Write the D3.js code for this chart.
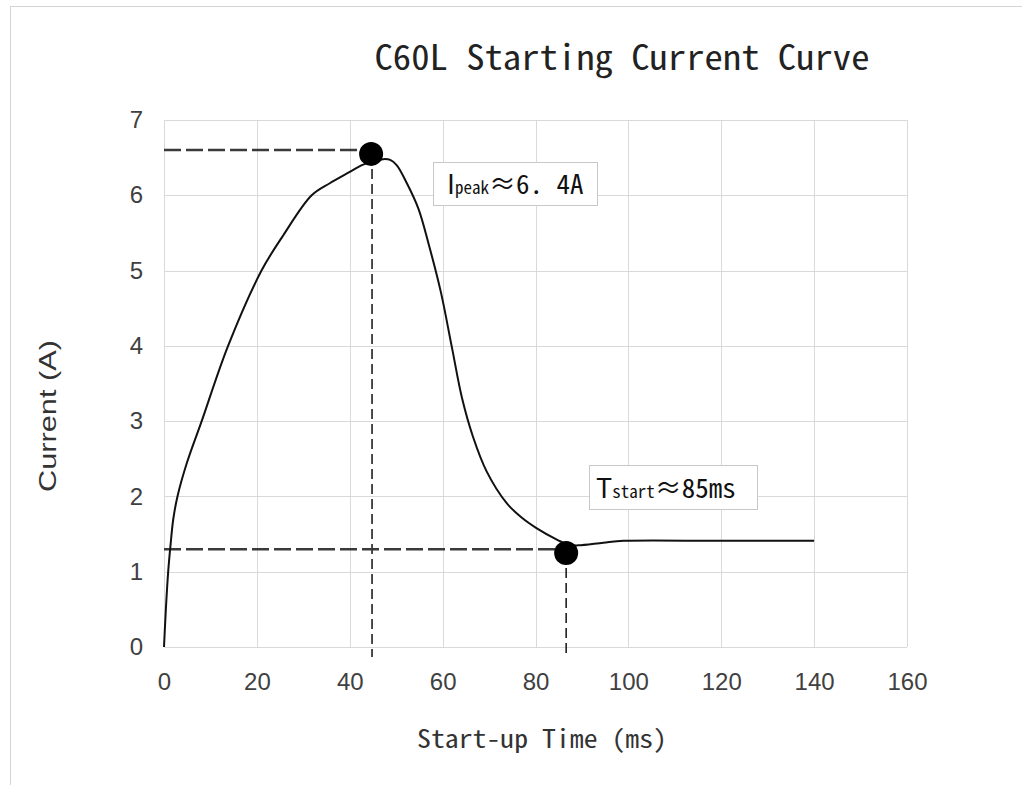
<!DOCTYPE html>
<html>
<head>
<meta charset="utf-8">
<script src="https://cdn.jsdelivr.net/npm/d3@7"></script>
<style>
  html, body { margin: 0; padding: 0; background: #ffffff; }
  svg { display: block; }
</style>
</head>
<body>
<svg id="chart" width="1022" height="785"></svg>
<script>
// Curve: time in ms, current in A
var timeMs = [0, 0.4, 0.9, 1.4, 2.0, 2.9, 4.9, 8.0, 13.8, 21.0, 25.7, 31.8,
  35.7, 40.0, 42.6, 45.0, 47.2, 48.7, 50.1, 52.3, 54.8, 57.0, 59.6, 62.0, 64.2, 66.5,
  69.5, 73.8, 77.0, 80.2, 84.8, 87.0, 89.2, 94.6, 99.0, 120, 140];
var currentA = [0, 0.5, 1.0, 1.35, 1.7, 2.0, 2.44, 2.98, 4.0, 5.0, 5.47, 6.0,
  6.16, 6.31, 6.40, 6.45, 6.48, 6.47, 6.40, 6.16, 5.82, 5.35, 4.72, 3.98, 3.3, 2.8,
  2.33, 1.91, 1.72, 1.58, 1.42, 1.36, 1.35, 1.385, 1.41, 1.41, 1.41];

// Marked points
var peakPoint = [44.6, 6.55];
var startPoint = [86.6, 1.25];
var peakLevel = 6.6;
var startLevel = 1.3;

var xTicks = [0, 20, 40, 60, 80, 100, 120, 140, 160];
var yTicks = [0, 1, 2, 3, 4, 5, 6, 7];

var titleText = "C60L Starting Current Curve";
var xTitle = "Start-up Time (ms)";
var yTitle = "Current (A)";

var chartWidth = 1022, chartHeight = 785;
var margin = { top: 120, right: 115, bottom: 138, left: 164 };
var monoFont = "'Noto Sans Mono CJK SC', 'DejaVu Sans Mono', monospace";
var sansFont = "'Noto Sans CJK SC', 'Noto Sans', sans-serif";
var tickFont = "'Liberation Sans', Arial, sans-serif";

var svg = d3.select("#chart");

var x = d3.scaleLinear().domain([0, 160]).range([margin.left, chartWidth - margin.right]);
var y = d3.scaleLinear().domain([0, 7]).range([chartHeight - margin.bottom, margin.top]);

// outer sheet frame
svg.append("line").attr("x1", 10).attr("x2", chartWidth).attr("y1", 6.5).attr("y2", 6.5)
  .style("stroke", "#d4d4d4");
svg.append("line").attr("x1", 10.5).attr("x2", 10.5).attr("y1", 6).attr("y2", chartHeight)
  .style("stroke", "#d4d4d4");

// grid
svg.append("g").selectAll("line").data(xTicks).join("line")
  .attr("x1", function(d) { return Math.round(x(d)) + 0.5; })
  .attr("x2", function(d) { return Math.round(x(d)) + 0.5; })
  .attr("y1", y(0)).attr("y2", y(7))
  .style("stroke", "#d9d9d9");
svg.append("g").selectAll("line").data(yTicks).join("line")
  .attr("y1", function(d) { return Math.round(y(d)) + 0.5; })
  .attr("y2", function(d) { return Math.round(y(d)) + 0.5; })
  .attr("x1", x(0)).attr("x2", x(160))
  .style("stroke", "#d9d9d9");

// axes (labels only)
var xAxis = svg.append("g")
  .attr("transform", "translate(0," + y(0) + ")")
  .call(d3.axisBottom(x).tickValues(xTicks).tickFormat(d3.format("d")).tickSize(0).tickPadding(26));
var yAxis = svg.append("g")
  .attr("transform", "translate(" + x(0) + ",0)")
  .call(d3.axisLeft(y).tickValues(yTicks).tickFormat(d3.format("d")).tickSize(0).tickPadding(21));
[xAxis, yAxis].forEach(function(g) {
  g.select(".domain").remove();
  g.selectAll("text").style("font-family", tickFont).style("font-size", "24px").style("fill", "#404040");
});

// title and axis titles
svg.append("text")
  .attr("x", 622).attr("y", 70)
  .attr("text-anchor", "middle")
  .attr("textLength", 495).attr("lengthAdjust", "spacingAndGlyphs")
  .style("font-family", monoFont).style("font-size", "35px").style("fill", "#222")
  .text(titleText);

svg.append("text")
  .attr("x", 542).attr("y", 748)
  .attr("text-anchor", "middle")
  .attr("textLength", 250).attr("lengthAdjust", "spacingAndGlyphs")
  .style("font-family", monoFont).style("font-size", "25px").style("fill", "#333")
  .text(xTitle);

svg.append("text")
  .attr("transform", "translate(56,416) rotate(-90)")
  .attr("text-anchor", "middle")
  .attr("textLength", 152).attr("lengthAdjust", "spacingAndGlyphs")
  .style("font-family", tickFont).style("font-size", "24px").style("fill", "#333")
  .text(yTitle);

// guide dashes
function hDash(level, toX) {
  svg.append("line")
    .attr("x1", x(0)).attr("x2", x(toX))
    .attr("y1", y(level)).attr("y2", y(level))
    .style("stroke", "#3a3a3a").style("stroke-width", 2.5).style("stroke-dasharray", "17,5");
}
function vDash(atX, fromY) {
  svg.append("line")
    .attr("x1", x(atX)).attr("x2", x(atX))
    .attr("y1", y(fromY)).attr("y2", y(0) + 10)
    .style("stroke", "#111").style("stroke-width", 1.5).style("stroke-dasharray", "10,5");
}
hDash(peakLevel, peakPoint[0]);
vDash(peakPoint[0] + 0.2, peakPoint[1]);
hDash(startLevel, startPoint[0]);
vDash(startPoint[0], startPoint[1]);

// the curve
var curveData = d3.zip(timeMs, currentA);
svg.append("path")
  .datum(curveData)
  .attr("d", d3.line()
    .x(function(d) { return x(d[0]); })
    .y(function(d) { return y(d[1]); })
    .curve(d3.curveCatmullRom.alpha(0.5)))
  .style("fill", "none").style("stroke", "#111").style("stroke-width", 2);

// markers
svg.append("g").selectAll("circle").data([peakPoint, startPoint]).join("circle")
  .attr("cx", function(d) { return x(d[0]); })
  .attr("cy", function(d) { return y(d[1]); })
  .attr("r", 12)
  .style("fill", "#000");

// annotation boxes
function noteBox(bx, by, bw, bh, big, small, rest, tx, ty) {
  svg.append("rect")
    .attr("x", bx + 0.5).attr("y", by + 0.5).attr("width", bw).attr("height", bh)
    .style("fill", "#fff").style("stroke", "#c8c8c8");
  var t = svg.append("text").attr("x", tx).attr("y", ty)
    .style("fill", "#111");
  t.append("tspan").style("font-family", sansFont).style("font-size", "27px").text(big);
  t.append("tspan").style("font-family", monoFont).style("font-size", "17px").text(small);
  t.append("tspan").style("font-family", monoFont).style("font-size", "27px").text(rest);
}
noteBox(433, 162, 164, 43, "I", "peak", "≈6. 4A", 447, 194);
noteBox(589, 465, 168, 44, "T", "start", "≈85ms", 596, 498);
</script>
</body>
</html>
